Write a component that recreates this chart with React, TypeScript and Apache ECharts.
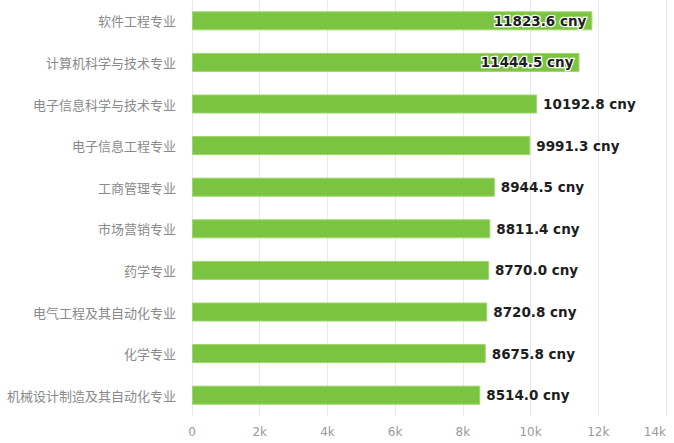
import React, { useEffect, useRef } from 'react';
import * as echarts from 'echarts';

const majors = [
  '软件工程专业',
  '计算机科学与技术专业',
  '电子信息科学与技术专业',
  '电子信息工程专业',
  '工商管理专业',
  '市场营销专业',
  '药学专业',
  '电气工程及其自动化专业',
  '化学专业',
  '机械设计制造及其自动化专业',
];

const salaries = [11823.6, 11444.5, 10192.8, 9991.3, 8944.5, 8811.4, 8770.0, 8720.8, 8675.8, 8514.0];

// bars whose label sits inside the bar end
const insideLabelCount = 2;

const formatSalary = (v: number): string => `${v.toFixed(1)} cny`;

export default function App() {
  const chartRef = useRef<HTMLDivElement>(null);

  useEffect(() => {
    if (!chartRef.current) return;
    const chart = echarts.init(chartRef.current, null, { renderer: 'svg' });

    const data = salaries.map((value, i) =>
      i < insideLabelCount
        ? {
            value,
            label: {
              position: 'insideRight' as const,
              distance: 6,
              textBorderColor: '#fff',
              textBorderWidth: 2.5,
            },
          }
        : { value },
    );

    chart.setOption({
      animation: false,
      grid: { left: 192, right: 8, top: 0, bottom: 27, containLabel: false },
      xAxis: {
        type: 'value',
        min: 0,
        max: 14000,
        interval: 2000,
        axisLine: { show: false },
        axisTick: { show: false },
        axisLabel: {
          color: '#9a9a9a',
          fontSize: 12,
          fontFamily: 'DejaVu Sans',
          margin: 10,
          alignMaxLabel: 'right',
          formatter: (v: number) => (v === 0 ? '0' : `${v / 1000}k`),
        },
        splitLine: { lineStyle: { color: '#e8e8e8', width: 1 } },
      },
      yAxis: {
        type: 'category',
        data: majors,
        inverse: true,
        axisLine: { show: false },
        axisTick: { show: false },
        axisLabel: {
          color: '#8a8a8a',
          fontSize: 13,
          fontFamily: 'Noto Sans CJK SC',
          margin: 16,
        },
        splitLine: { show: false },
      },
      series: [
        {
          type: 'bar',
          data,
          barWidth: 19,
          itemStyle: {
            color: '#7bc442',
            borderColor: '#9ed66a',
            borderWidth: 1,
          },
          label: {
            show: true,
            position: 'right',
            distance: 6,
            color: '#1e1e1e',
            fontSize: 13.5,
            fontWeight: 'bold',
            fontFamily: 'DejaVu Sans',
            formatter: (p: { value: number }) => formatSalary(p.value),
          },
          emphasis: { disabled: true },
        },
      ],
    });

    return () => {
      chart.dispose();
    };
  }, []);

  return (
    <div
      ref={chartRef}
      style={{ position: 'fixed', left: 0, top: 0, width: 674, height: 443, background: '#fff' }}
    />
  );
}
